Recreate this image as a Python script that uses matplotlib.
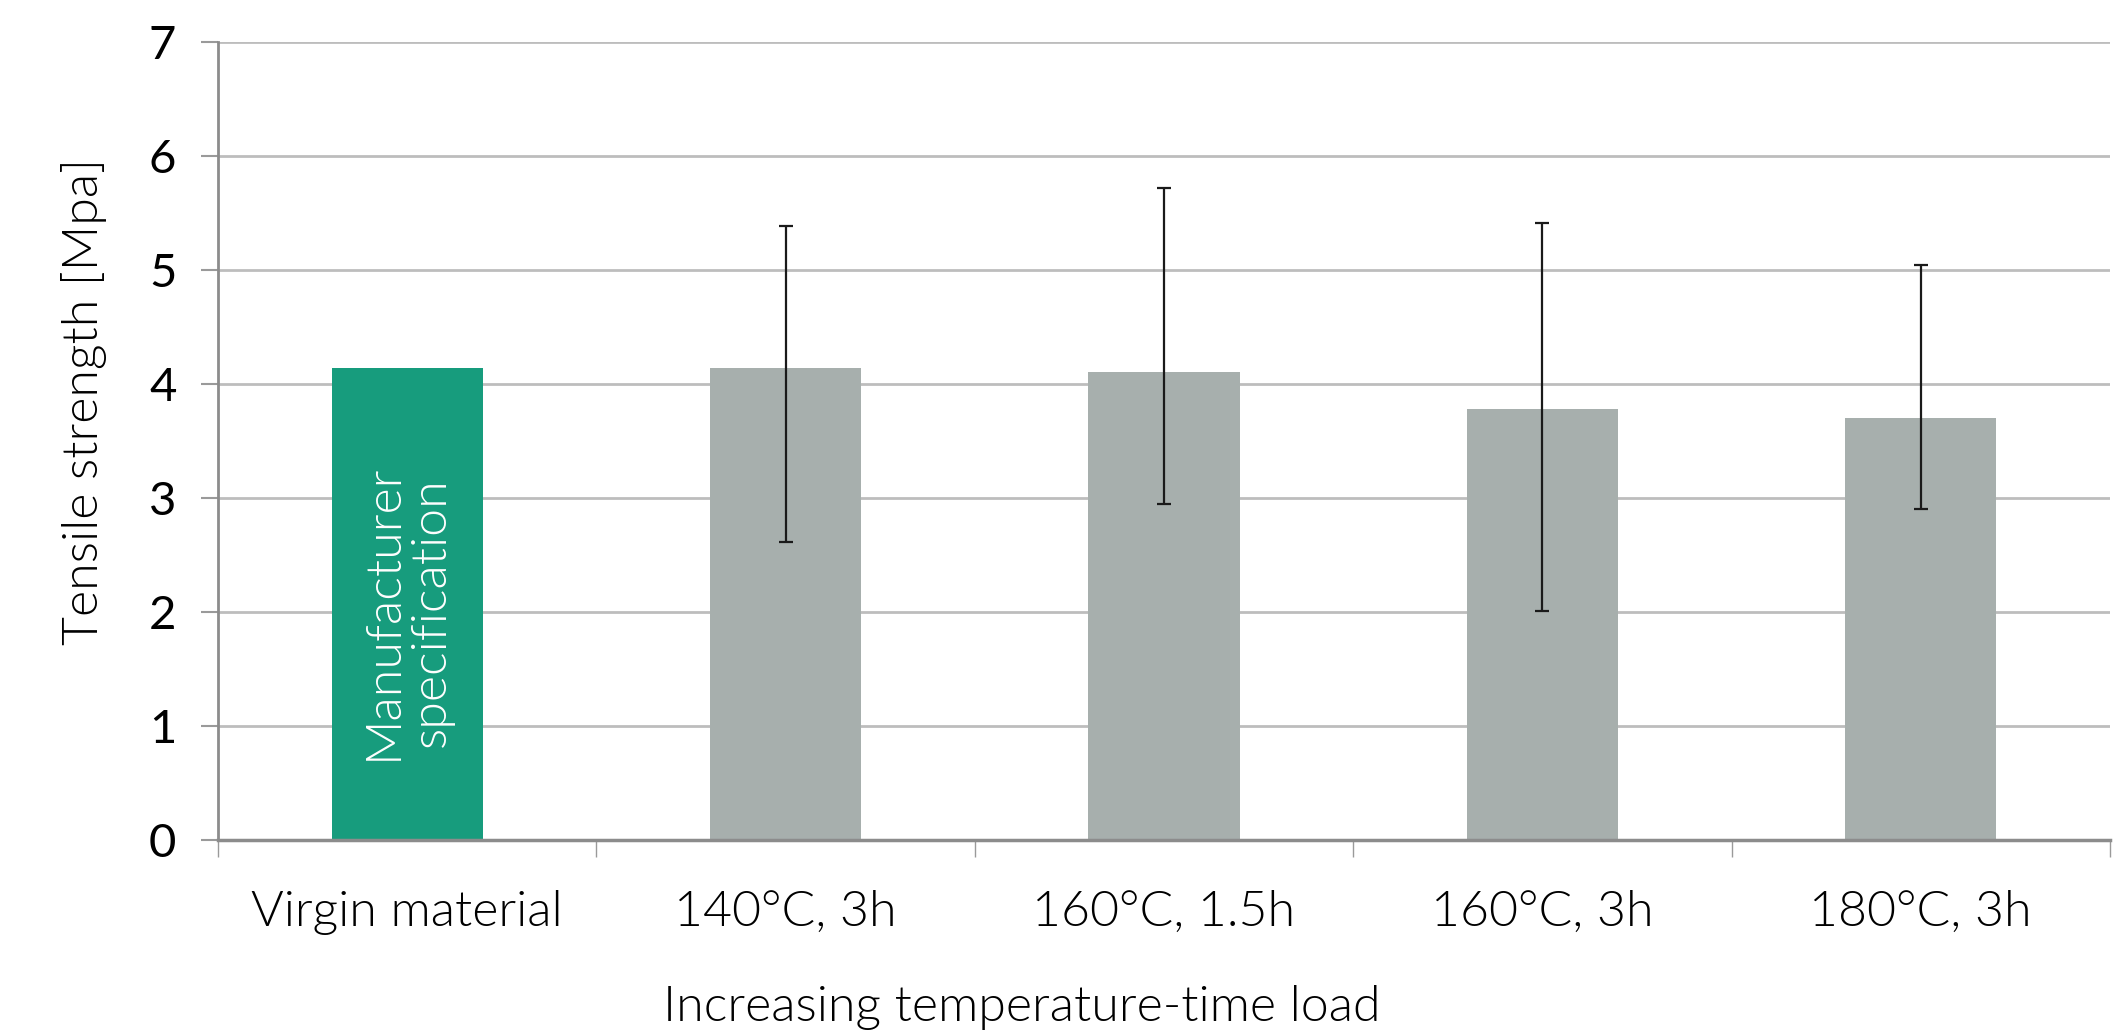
import matplotlib.pyplot as plt
import numpy as np

categories = ["Virgin material", "140°C, 3h", "160°C, 1.5h", "160°C, 3h", "180°C, 3h"]
strength = [4.14, 4.14, 4.11, 3.78, 3.70]
err_low = [None, 2.61, 2.95, 2.01, 2.90]
err_high = [None, 5.39, 5.72, 5.41, 5.05]
bar_colors = ["#179c7d", "#a7afad", "#a7afad", "#a7afad", "#a7afad"]
inside_text = "Manufacturer\nspecification"

plt.rcParams["font.family"] = ["Lato", "DejaVu Sans"]

fig = plt.figure(figsize=(21.21, 10.33), dpi=100)
ax = fig.add_axes([0.1028, 0.187, 0.892, 0.772])

x = np.arange(len(categories))
ax.bar(x, strength, width=0.4, color=bar_colors, zorder=2)

# error bars only for the tested samples
ex = [i for i in x if err_low[i] is not None]
ey = [strength[i] for i in ex]
lower = [strength[i] - err_low[i] for i in ex]
upper = [err_high[i] - strength[i] for i in ex]
ax.errorbar(ex, ey, yerr=[lower, upper], fmt="none", ecolor="#1a1a1a",
            elinewidth=1.6, capsize=5, capthick=1.6, zorder=3)

ax.text(0, 2.0, inside_text, rotation=90, ha="center", va="center",
        color="white", fontsize=36, fontweight=300, linespacing=1.1, zorder=4)

ax.set_xlim(-0.5, len(categories) - 0.5)
ax.set_ylim(0, 7)
ax.set_yticks(range(0, 8))
ax.yaxis.grid(True, color="#bdbdbd", linewidth=2, zorder=0)
ax.set_axisbelow(True)

ax.set_xticks(x)
ax.set_xticklabels(categories, fontsize=36, fontweight=300, color="black")
ax.set_xticks(np.arange(-0.5, len(categories)), minor=True)
ax.tick_params(axis="x", which="major", length=0, pad=36)
ax.tick_params(axis="x", which="minor", length=12, width=1, color="#9a9a9a", direction="out")
ax.tick_params(axis="y", length=12, width=1.5, color="#9a9a9a", labelsize=34, pad=18)

for s in ["top", "right"]:
    ax.spines[s].set_visible(False)
ax.spines["left"].set_color("#8c8c8c")
ax.spines["left"].set_linewidth(2)
ax.spines["bottom"].set_color("#8c8c8c")
ax.spines["bottom"].set_linewidth(2.5)

ax.set_ylabel("Tensile strength [Mpa]", fontsize=36, fontweight=300)
ax.yaxis.label.set_va("center")
ax.yaxis.set_label_coords(-0.071, 0.55)
ax.set_xlabel("Increasing temperature-time load", fontsize=36, fontweight=300)
ax.xaxis.label.set_va("center")
ax.xaxis.set_label_coords(0.425, -0.21)

fig.savefig("out.png", dpi=100)
